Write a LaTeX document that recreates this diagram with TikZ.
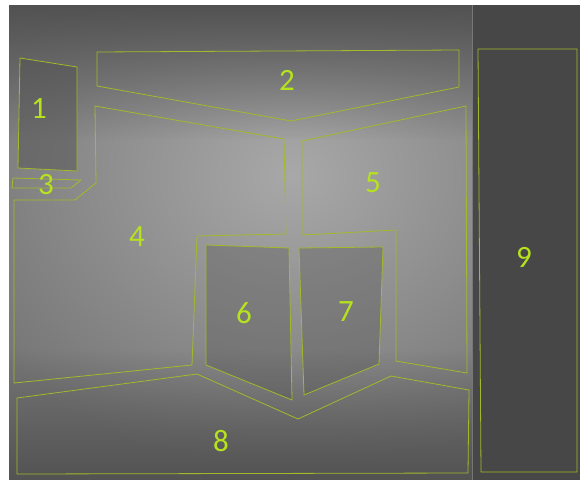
\documentclass[tikz,border=0pt]{standalone}
\usepackage{fontspec}
\setmainfont{Carlito}
\usepackage{xcolor}
\usetikzlibrary{fadings}
\definecolor{RL}{HTML}{A2BA2A}
\definecolor{RT}{HTML}{B6E21E}
\definecolor{BGd}{HTML}{525252}
\definecolor{BGm}{HTML}{767676}
\definecolor{BGl}{HTML}{A8A8A8}
\definecolor{BGr}{HTML}{474747}

\begin{document}
\begin{tikzpicture}[x=1pt, y=-1pt,
    region/.style={draw=RL, line width=0.8pt, line join=miter},
    tag/.style={text=RT, inner sep=0pt,
      font=\fontsize{31}{31}\selectfont}]
    % canvas, margins included
    \useasboundingbox (0,0) rectangle (580,479);
    \fill[white] (0,0) rectangle (580,479);
    \fill[BGm] (9,5) rectangle (580,482);
    \begin{scope}
      \clip (9,5) rectangle (472,482);
      \shade[inner color=BGl, outer color=BGm]
        (292,175) ellipse (360 and 300);
      \fill[BGd, path fading=south] (9,5) rectangle (472,140);
      \fill[BGd, path fading=north] (9,350) rectangle (472,482);
    \end{scope}
    \fill[BGr] (473,5) rectangle (580,482);
    \fill[BGd, opacity=0.5] (20,58) -- (77,67) -- (77,171) -- (18,168) -- cycle;
    \fill[BGd, opacity=0.35] (206,245) -- (289,248) -- (292,400) -- (206,365) -- cycle;
    \fill[BGd, opacity=0.35] (299,248) -- (383,247) -- (379,364) -- (304,395) -- cycle;

    % region outlines
    \draw[region] (20,58) -- (77,67) -- (77,171) -- (18,168) -- cycle;
    \draw[region] (97,52) -- (459,50) -- (459,87) -- (291,121) -- (97,86) -- cycle;
    \draw[region] (13,178) -- (81,180) -- (71,188) -- (12,188) -- cycle;
    \draw[region] (95,106) -- (284,139) -- (286,234) -- (197,236) -- (192,365)
      -- (14,383) -- (14,200) -- (75,200) -- (96,183) -- cycle;
    \draw[region] (302,141) -- (466,106) -- (467,373) -- (396,361)
      -- (396,230) -- (302,235) -- cycle;
    \draw[region] (206,245) -- (289,248) -- (292,400) -- (206,365) -- cycle;
    \draw[region] (299,248) -- (383,247) -- (379,364) -- (304,395) -- cycle;
    \draw[region] (17,398) -- (197,374) -- (298,419) -- (391,376) -- (469,390)
      -- (468,473) -- (17,474) -- cycle;
    \draw[region] (478,49) -- (577,49) -- (577,472) -- (481,472) -- cycle;

    % numbers
    \node[tag] (lbl1) at (39,109) {1};
    \node[tag] (lbl2) at (287,80) {2};
    \node[tag] (lbl3) at (46,185) {3};
    \node[tag] (lbl4) at (137,237) {4};
    \node[tag] (lbl5) at (373,183) {5};
    \node[tag] (lbl6) at (244,313) {6};
    \node[tag] (lbl7) at (346,312) {7};
    \node[tag] (lbl8) at (221,441) {8};
    \node[tag] (lbl9) at (524,257) {9};
  \end{tikzpicture}
\end{document}
